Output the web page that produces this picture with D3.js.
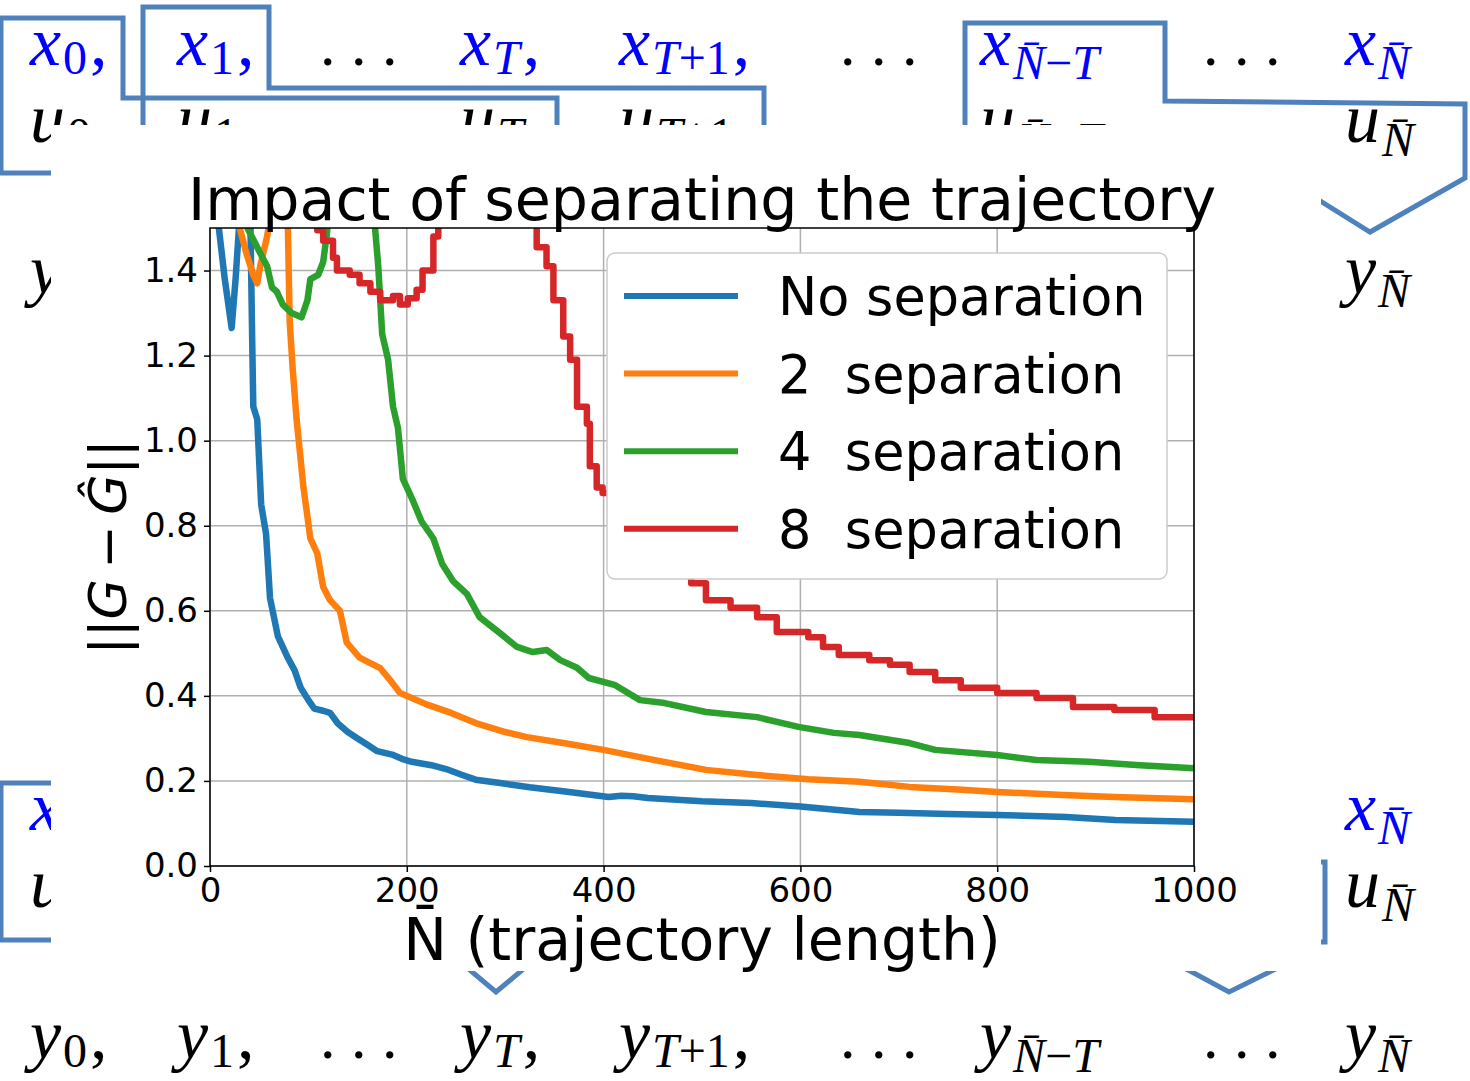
<!DOCTYPE html>
<html>
<head>
<meta charset="utf-8">
<script src="https://cdn.jsdelivr.net/npm/d3@7"></script>
<style>
  body { margin: 0; background: #fff; }
</style>
</head>
<body>
<div id="chart"></div>
<script>
// ---- data: trajectory length vs ||G - Ĝ|| ----
const nNoSep = [0, 8, 15, 22, 26, 30, 34, 37, 41, 43, 44, 48, 52, 57, 61, 69, 79, 86, 92, 100, 106, 115, 122, 130, 140, 150, 160, 170, 185, 195, 205, 225, 240, 255, 270, 295, 325, 365, 405, 418, 430, 445, 500, 550, 600, 660, 700, 750, 800, 870, 920, 1000];
const errNoSep = [1.65, 1.52, 1.38, 1.265, 1.38, 1.52, 1.65, 1.7, 1.52, 1.22, 1.08, 1.05, 0.85, 0.78, 0.63, 0.54, 0.49, 0.46, 0.42, 0.39, 0.37, 0.365, 0.36, 0.335, 0.315, 0.30, 0.285, 0.27, 0.262, 0.252, 0.245, 0.237, 0.228, 0.215, 0.203, 0.195, 0.185, 0.174, 0.162, 0.165, 0.164, 0.16, 0.152, 0.148, 0.14, 0.127, 0.125, 0.122, 0.12, 0.115, 0.108, 0.104];

const nSep2 = [24, 28, 37, 44, 48, 51, 58, 61, 66, 75, 79, 81, 84, 88, 95, 102, 109, 115, 122, 132, 139, 152, 173, 182, 193, 205, 220, 245, 270, 300, 322, 359, 400, 452, 504, 556, 608, 660, 711, 760, 800, 867, 919, 1000];
const errSep2 = [1.65, 1.52, 1.44, 1.39, 1.37, 1.41, 1.48, 1.52, 1.6, 1.6, 1.52, 1.28, 1.17, 1.05, 0.89, 0.77, 0.735, 0.656, 0.625, 0.60, 0.525, 0.49, 0.465, 0.44, 0.407, 0.395, 0.38, 0.36, 0.336, 0.315, 0.303, 0.289, 0.273, 0.249, 0.226, 0.214, 0.204, 0.198, 0.186, 0.18, 0.174, 0.167, 0.162, 0.157];

const nSep4 = [34, 38, 49, 58, 63, 68, 74, 83, 93, 99, 102, 110, 115, 119, 122, 140, 164, 167, 171, 175, 181, 186, 191, 196, 206, 215, 227, 236, 247, 261, 274, 295, 312, 328, 342, 356, 373, 385, 411, 437, 462, 504, 556, 598, 634, 660, 711, 737, 800, 840, 893, 945, 1000];
const errSep4 = [1.6, 1.5, 1.45, 1.41, 1.36, 1.35, 1.32, 1.30, 1.29, 1.33, 1.38, 1.39, 1.42, 1.49, 1.6, 1.7, 1.6, 1.52, 1.41, 1.25, 1.19, 1.08, 1.03, 0.91, 0.86, 0.81, 0.77, 0.71, 0.67, 0.64, 0.585, 0.547, 0.515, 0.503, 0.508, 0.484, 0.466, 0.442, 0.426, 0.39, 0.383, 0.362, 0.35, 0.327, 0.313, 0.308, 0.289, 0.273, 0.261, 0.249, 0.245, 0.237, 0.23];

const nSep8 = [88, 95, 109, 115, 125, 129, 142, 152, 163, 173, 186, 193, 201, 210, 216, 227, 232, 240, 320, 328, 332, 342, 349, 359, 366, 373, 383, 386, 393, 399, 420, 450, 475, 489, 504, 529, 556, 576, 608, 623, 639, 670, 691, 711, 737, 763, 800, 840, 877, 919, 960, 1000];
const errSep8 = [1.6, 1.52, 1.495, 1.47, 1.43, 1.40, 1.39, 1.37, 1.35, 1.33, 1.34, 1.32, 1.335, 1.355, 1.40, 1.48, 1.52, 1.65, 1.65, 1.52, 1.455, 1.41, 1.33, 1.245, 1.19, 1.08, 1.04, 0.94, 0.89, 0.877, 0.80, 0.74, 0.69, 0.665, 0.625, 0.607, 0.585, 0.55, 0.538, 0.515, 0.496, 0.484, 0.473, 0.456, 0.437, 0.419, 0.407, 0.395, 0.374, 0.367, 0.35, 0.342];

const seriesNames = ["No separation", "2  separation", "4  separation", "8  separation"];
const xTicks = [0, 200, 400, 600, 800, 1000];
const yTicks = [0, 0.2, 0.4, 0.6, 0.8, 1.0, 1.2, 1.4];

// labels of the trajectory diagram that sits behind the figure
const diagSubs = ["0", "1", null, "T", "T+1", null, "N\u0304\u2212T", null, "N\u0304"];
const diagComma = [true, true, false, true, true, false, false, false, false];
const diagLetters = ["x", "u", "y", "x", "u", "y"];

// ---- canvas ----
const W = 1470, H = 1081;
const svg = d3.select("#chart").append("svg").attr("width", W).attr("height", H);
svg.append("rect").attr("width", W).attr("height", H).attr("fill", "#fff");

// ---- background diagram ----
const diag = svg.append("g");
const colX = [30, 177, 320, 460, 619, 840, 980, 1203, 1345];
const rowY = [65, 142, 293, 830, 907, 1058];
const rowColor = ["#0000ff", "#000", "#000", "#0000ff", "#000", "#000"];
// rows 3-5 are hidden behind the figure except their first and last entries
const rowCols = [
  [0, 1, 2, 3, 4, 5, 6, 7, 8],
  [0, 1, 3, 4, 6, 8],
  [0, 8], [0, 8], [0, 8],
  [0, 1, 2, 3, 4, 5, 6, 7, 8]
];
const mathFont = "'Liberation Serif', 'DejaVu Serif', serif";

function mathLabel(g, letter, sub, comma, x, y, color) {
  const t = g.append("text").attr("x", x).attr("y", y).attr("fill", color)
    .style("font-family", mathFont);
  t.append("tspan").style("font-style", "italic").style("font-size", "70px").text(letter);
  const low = sub.includes("\u0304") ? 14 : 9;
  sub.match(/[A-Za-z]\u0304?|[^A-Za-z]+/g).forEach((p, i) => {
    t.append("tspan").attr("dy", i === 0 ? low : null).attr("dx", i === 0 ? 2 : null)
      .style("font-size", "48px")
      .style("font-style", /[A-Za-z]/.test(p) ? "italic" : "normal")
      .text(p);
  });
  if (comma) t.append("tspan").attr("dy", -low).attr("dx", 3).style("font-size", "70px").text(",");
}

diagLetters.forEach((letter, r) => {
  rowCols[r].forEach(c => {
    const sub = diagSubs[c];
    if (sub === null) {
      diag.append("text").attr("x", colX[c]).attr("y", rowY[r]).attr("fill", "#000")
        .style("font-family", mathFont).style("font-size", "62px").text(". . .");
    } else {
      mathLabel(diag, letter, sub, diagComma[c], colX[c], rowY[r], rowColor[r]);
    }
  });
});

const boxes = [
  [[51, 173], [1, 173], [1, 18], [123, 18], [123, 98], [557, 98], [557, 140]],
  [[143, 140], [143, 7], [269, 7], [269, 88], [764, 88], [764, 140]],
  [[965, 140], [965, 23], [1165, 23], [1165, 101], [1465, 104], [1465, 178], [1370, 232], [1290, 182]],
  [[51, 783], [1, 783], [1, 940], [51, 940]],
  [[1290, 862], [1325, 862], [1325, 942], [1290, 942]],
  [[446, 950], [496, 992], [546, 950]],
  [[1151, 950], [1229, 992], [1314, 950]]
];
diag.selectAll("path.box").data(boxes).enter().append("path")
  .attr("class", "box")
  .attr("d", d3.line())
  .attr("fill", "none").attr("stroke", "#4f81bd").attr("stroke-width", 5);

// ---- figure (white background over the diagram) ----
svg.append("rect").attr("x", 51).attr("y", 125).attr("width", 1270).attr("height", 846).attr("fill", "#fff");

const x = d3.scaleLinear().domain([0, 1000]).range([210, 1194]);
const y = d3.scaleLinear().domain([0, 1.5]).range([866, 228]);
const color = d3.scaleOrdinal().domain(seriesNames).range(["#1f77b4", "#ff7f0e", "#2ca02c", "#d62728"]);

const fig = svg.append("g").style("font-family", "'DejaVu Sans', sans-serif");

// grid
fig.append("g").selectAll("line").data(xTicks).enter().append("line")
  .attr("x1", d => x(d)).attr("x2", d => x(d)).attr("y1", y(0)).attr("y2", y(1.5))
  .attr("stroke", "#b0b0b0").attr("stroke-width", 1.5);
fig.append("g").selectAll("line").data(yTicks).enter().append("line")
  .attr("x1", x(0)).attr("x2", x(1000)).attr("y1", d => y(d)).attr("y2", d => y(d))
  .attr("stroke", "#b0b0b0").attr("stroke-width", 1.5);

// curves
svg.append("clipPath").attr("id", "plotclip").append("rect")
  .attr("x", x(0)).attr("y", y(1.5)).attr("width", x(1000) - x(0)).attr("height", y(0) - y(1.5));

const series = [
  { name: seriesNames[0], n: nNoSep, v: errNoSep, curve: d3.curveLinear },
  { name: seriesNames[1], n: nSep2, v: errSep2, curve: d3.curveLinear },
  { name: seriesNames[2], n: nSep4, v: errSep4, curve: d3.curveLinear },
  { name: seriesNames[3], n: nSep8, v: errSep8, curve: d3.curveStepAfter }
];

const lines = fig.append("g").attr("clip-path", "url(#plotclip)");
series.forEach(s => {
  const line = d3.line().x(d => x(d[0])).y(d => y(d[1])).curve(s.curve);
  lines.append("path")
    .datum(s.n.map((n, i) => [n, s.v[i]]))
    .attr("d", line)
    .attr("fill", "none")
    .attr("stroke", color(s.name))
    .attr("stroke-width", 6.5)
    .attr("stroke-linejoin", "round");
});

// axes
const xAxis = fig.append("g").attr("transform", "translate(0," + y(0) + ")")
  .call(d3.axisBottom(x).tickValues(xTicks).tickFormat(d3.format("d")).tickSize(6).tickPadding(6).tickSizeOuter(0));
const yAxis = fig.append("g").attr("transform", "translate(" + x(0) + ",0)")
  .call(d3.axisLeft(y).tickValues(yTicks).tickFormat(d3.format(".1f")).tickSize(6).tickPadding(6).tickSizeOuter(0));
[xAxis, yAxis].forEach(a => {
  a.attr("font-family", null).attr("font-size", null);
  a.select(".domain").remove();
  a.selectAll(".tick line").attr("stroke", "#000").attr("stroke-width", 1.5);
  a.selectAll(".tick text").attr("fill", "#000").style("font-size", "34px");
});

// spines
fig.append("rect")
  .attr("x", x(0)).attr("y", y(1.5)).attr("width", x(1000) - x(0)).attr("height", y(0) - y(1.5))
  .attr("fill", "none").attr("stroke", "#000").attr("stroke-width", 1.5);

// legend
const legend = fig.append("g");
legend.append("rect").attr("x", 607).attr("y", 253).attr("width", 560).attr("height", 326)
  .attr("rx", 8).attr("fill", "#fff").attr("stroke", "#cccccc").attr("stroke-width", 1.5);
const items = legend.selectAll("g.item").data(seriesNames).enter().append("g")
  .attr("class", "item")
  .attr("transform", (d, i) => "translate(0," + (296 + i * 77.6) + ")");
items.append("line").attr("x1", 624).attr("x2", 738)
  .attr("stroke", d => color(d)).attr("stroke-width", 6);
items.append("text").attr("x", 778).attr("y", 19)
  .style("font-size", "52.5px").style("white-space", "pre").attr("fill", "#000")
  .text(d => d);

// title and axis labels
fig.append("text").attr("x", 702).attr("y", 220).attr("text-anchor", "middle")
  .style("font-size", "58.6px").text("Impact of separating the trajectory");
fig.append("text").attr("x", 702).attr("y", 960).attr("text-anchor", "middle")
  .style("font-size", "58.5px").text("N\u0304 (trajectory length)");

const yl = fig.append("text").attr("transform", "translate(126,547) rotate(-90)")
  .attr("text-anchor", "middle").style("font-size", "52px");
yl.append("tspan").text("||");
yl.append("tspan").style("font-style", "oblique").text("G");
yl.append("tspan").text("\u2009\u2212\u2009");
yl.append("tspan").style("font-style", "oblique").text("G\u0302");
yl.append("tspan").text("||");
</script>
</body>
</html>
